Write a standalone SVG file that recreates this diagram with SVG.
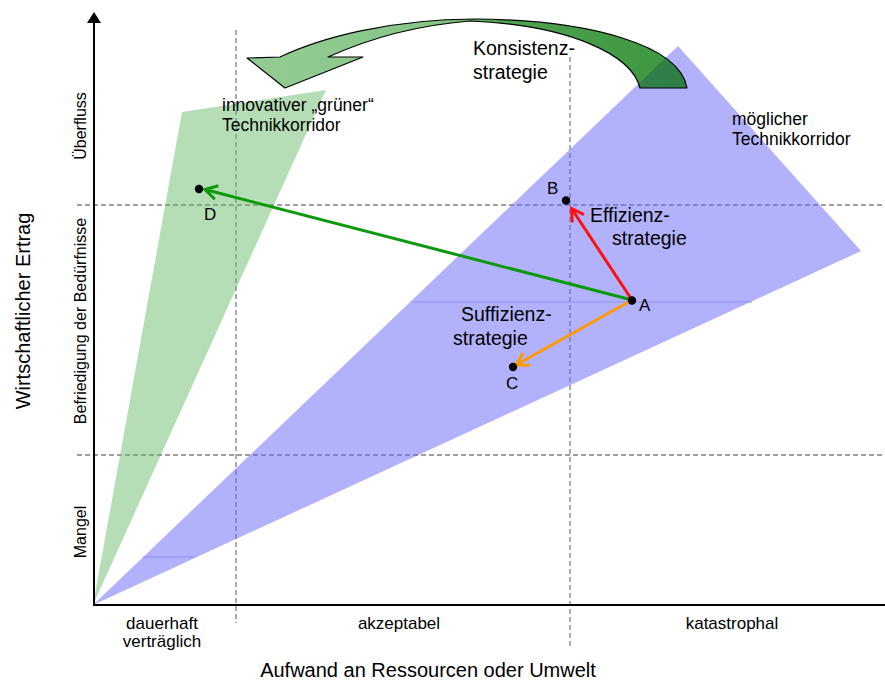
<svg xmlns="http://www.w3.org/2000/svg" width="885" height="682" viewBox="0 0 885 682">
<style>
text{font-family:"Liberation Sans",Arial,sans-serif;fill:#000}
.dash{stroke:#7f7f7f;stroke-width:1.3;stroke-dasharray:5 3;fill:none}
.axis{stroke:#000;stroke-width:2;fill:none}
.lbl{font-size:17.5px}
.strat{font-size:19.5px}
.cat{font-size:17px;text-anchor:middle}
.ycat{font-size:16px;text-anchor:middle}
.big{font-size:20px;text-anchor:middle}
.pt{font-size:17px}
.dot{fill:#000}
</style>
<defs>
<linearGradient id="kg" gradientUnits="userSpaceOnUse" x1="250" y1="0" x2="690" y2="0">
<stop offset="0" stop-color="#93cc93"/>
<stop offset="0.42" stop-color="#86c586"/>
<stop offset="0.56" stop-color="#4ea351"/>
<stop offset="1" stop-color="#3c963f"/>
</linearGradient>
<clipPath id="kclip">
<path d="M687,88 C680,45 590,20 475,19 C390,19 320,38 280,57 L247,58 L285,88 L363,57 L328,57 C370,38 420,25 470,21 C570,25 632,55 640,88 Z"/>
</clipPath>
<marker id="mg" markerUnits="userSpaceOnUse" markerWidth="30" markerHeight="30" viewBox="-15 -15 30 30" refX="0" refY="0" orient="auto" overflow="visible">
<path d="M-12,-7 L0,0 L-12,7" fill="none" stroke="#0c990c" stroke-width="3" stroke-linejoin="miter"/>
</marker>
<marker id="mr" markerUnits="userSpaceOnUse" markerWidth="30" markerHeight="30" viewBox="-15 -15 30 30" refX="0" refY="0" orient="auto" overflow="visible">
<path d="M-12,-7 L0,0 L-12,7" fill="none" stroke="#ff1010" stroke-width="3"/>
</marker>
<marker id="mo" markerUnits="userSpaceOnUse" markerWidth="30" markerHeight="30" viewBox="-15 -15 30 30" refX="0" refY="0" orient="auto" overflow="visible">
<path d="M-12,-7 L0,0 L-12,7" fill="none" stroke="#ff9900" stroke-width="3"/>
</marker>
</defs>

<rect width="885" height="682" fill="#fff"/>

<g id="grid">
<line class="dash" x1="236" y1="30" x2="236" y2="623"/>
<line class="dash" x1="570" y1="57" x2="570" y2="648"/>
<line class="dash" x1="77" y1="205" x2="885" y2="205"/>
<line class="dash" x1="77" y1="455" x2="885" y2="455"/>
</g>

<g id="corridor-blue">
<polygon points="93,605 678,46 861,251" fill="#6666fa" fill-opacity="0.5"/>
<line x1="412" y1="302" x2="752" y2="302" stroke="#8f8fee" stroke-width="1"/>
<line x1="143" y1="557" x2="195" y2="557" stroke="#8f8fee" stroke-width="1"/>
</g>
<g id="corridor-green">
<polygon points="93,605 182,112 326,90" fill="#66bb66" fill-opacity="0.48"/>
</g>

<g id="konsistenz-arrow">
<path d="M687,88 C680,45 590,20 475,19 C390,19 320,38 280,57 L247,58 L285,88 L363,57 L328,57 C370,38 420,25 470,21 C570,25 632,55 640,88 Z" fill="url(#kg)"/>
<g clip-path="url(#kclip)">
<polygon points="93,605 678,46 861,251" fill="#104258" fill-opacity="0.3"/>
</g>
<path d="M687,88 C680,45 590,20 475,19 C390,19 320,38 280,57 L247,58 L285,88 L363,57 L328,57 C370,38 420,25 470,21 C570,25 632,55 640,88 Z" fill="none" stroke="#000" stroke-width="1.2" stroke-linejoin="round"/>
</g>

<g id="axes">
<line class="axis" x1="94" y1="606" x2="94" y2="20"/>
<polygon points="94,12 87,23 101,23" fill="#000"/>
<line class="axis" x1="93" y1="605" x2="885" y2="605"/>
</g>

<g id="connectors">
<line x1="632" y1="300" x2="205" y2="189.5" stroke="#0c990c" stroke-width="3" marker-end="url(#mg)"/>
<line x1="632" y1="300" x2="571.5" y2="208.5" stroke="#ff1010" stroke-width="3" marker-end="url(#mr)"/>
<line x1="632" y1="300" x2="516" y2="365" stroke="#ff9900" stroke-width="3" marker-end="url(#mo)"/>
</g>

<g id="point-A"><circle class="dot" cx="632" cy="300.5" r="4.2"/><text class="pt" x="639" y="311">A</text></g>
<g id="point-B"><circle class="dot" cx="566" cy="200.5" r="4.2"/><text class="pt" x="547" y="194">B</text></g>
<g id="point-C"><circle class="dot" cx="513" cy="367" r="4.2"/><text class="pt" x="506" y="389">C</text></g>
<g id="point-D"><circle class="dot" cx="199" cy="189" r="4.2"/><text class="pt" x="204" y="220">D</text></g>

<g id="labels">
<text class="strat" x="473" y="55">Konsistenz-</text>
<text class="strat" x="473" y="79">strategie</text>
<text class="lbl" x="222" y="111">innovativer „grüner“</text>
<text class="lbl" x="222" y="131">Technikkorridor</text>
<text class="lbl" x="732" y="125">möglicher</text>
<text class="lbl" x="732" y="145">Technikkorridor</text>
<text class="strat" x="590" y="222">Effizienz-</text>
<text class="strat" x="612" y="245">strategie</text>
<text class="strat" x="461" y="321">Suffizienz-</text>
<text class="strat" x="453" y="345">strategie</text>
</g>

<g id="y-axis-labels">
<text class="ycat" transform="translate(86,126) rotate(-90)">Überfluss</text>
<text class="ycat" transform="translate(86,321) rotate(-90)">Befriedigung der Bedürfnisse</text>
<text class="ycat" transform="translate(86,532) rotate(-90)">Mangel</text>
<text class="big" transform="translate(30,311) rotate(-90)">Wirtschaftlicher Ertrag</text>
</g>

<g id="x-axis-labels">
<text class="cat" x="162" y="629">dauerhaft</text>
<text class="cat" x="162" y="647">verträglich</text>
<text class="cat" x="399" y="629">akzeptabel</text>
<text class="cat" x="732" y="629">katastrophal</text>
<text class="big" x="428" y="677">Aufwand an Ressourcen oder Umwelt</text>
</g>
</svg>
